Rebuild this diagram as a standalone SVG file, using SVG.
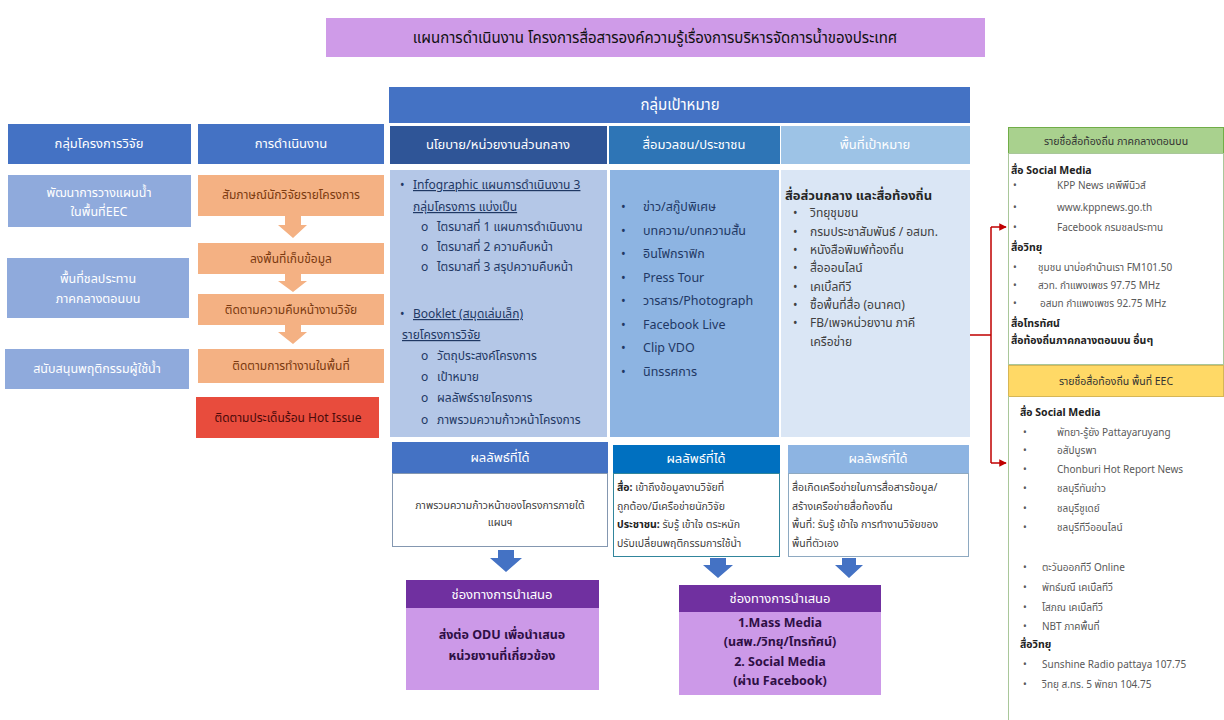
<svg xmlns="http://www.w3.org/2000/svg" width="1224" height="720" viewBox="0 0 1224 720">
<defs>
<style>
text{font-family:"Noto Sans","Noto Sans Thai","Liberation Sans",sans-serif;}
.hd{fill:#fff;font-size:13px;text-anchor:middle;}
.lb{fill:#fff;font-size:12.5px;text-anchor:middle;}
.or{fill:#7B3A10;font-size:12px;text-anchor:middle;}
.c1{fill:#1F3864;font-size:12px;}
.c2{fill:#1F3864;font-size:12.5px;}
.c3{fill:#404040;font-size:12px;}
.rs{fill:#404040;font-size:10.5px;}
.rp{fill:#595959;font-size:10px;}
.rb{fill:#222;font-size:10.5px;font-weight:bold;}
.pu{fill:#2E0F45;font-size:12.5px;font-weight:bold;text-anchor:middle;}
.ul{text-decoration:underline;}
</style>
<marker id="ah" viewBox="0 0 10 10" refX="9" refY="5" markerWidth="5" markerHeight="5" orient="auto">
<path d="M0,0 L10,5 L0,10 z" fill="#C00000"/>
</marker>
</defs>
<rect width="1224" height="720" fill="#fff"/>

<!-- title banner -->
<g id="title">
<rect x="326" y="18" width="659" height="39" fill="#CF9BE8"/>
<text x="655" y="43" font-size="15" text-anchor="middle" fill="#111">แผนการดำเนินงาน โครงการสื่อสารองค์ความรู้เรื่องการบริหารจัดการน้ำของประเทศ</text>
</g>

<!-- left: research groups -->
<g id="research-groups">
<rect x="8" y="124" width="183" height="40" fill="#4472C4"/>
<text class="hd" x="99" y="148">กลุ่มโครงการวิจัย</text>
<rect x="8" y="175" width="183" height="52" fill="#8FAADC"/>
<text class="lb" x="99" y="197">พัฒนาการวางแผนน้ำ</text>
<text class="lb" x="99" y="216">ในพื้นที่EEC</text>
<rect x="7" y="258" width="182" height="60" fill="#8FAADC"/>
<text class="lb" x="98" y="283">พื้นที่ชลประทาน</text>
<text class="lb" x="98" y="303">ภาคกลางตอนบน</text>
<rect x="5" y="349" width="184" height="40" fill="#8FAADC"/>
<text class="lb" x="97" y="373">สนับสนุนพฤติกรรมผู้ใช้น้ำ</text>
</g>

<!-- left: operations -->
<g id="operations">
<rect x="198" y="124" width="186" height="40" fill="#4472C4"/>
<text class="hd" x="291" y="148">การดำเนินงาน</text>
<rect x="198" y="175" width="186" height="41" fill="#F4B183"/>
<text class="or" x="291" y="199">สัมภาษณ์นักวิจัยรายโครงการ</text>
<rect x="198" y="243" width="186" height="31" fill="#F4B183"/>
<text class="or" x="291" y="263">ลงพื้นที่เก็บข้อมูล</text>
<rect x="198" y="294" width="186" height="31" fill="#F4B183"/>
<text class="or" x="291" y="314">ติดตามความคืบหน้างานวิจัย</text>
<rect x="198" y="349" width="186" height="34" fill="#F4B183"/>
<text class="or" x="291" y="370">ติดตามการทำงานในพื้นที่</text>
<rect x="196" y="397" width="183" height="41" fill="#E84C3D"/>
<text x="288" y="422" font-size="12" text-anchor="middle" fill="#4A0A0A">ติดตามประเด็นร้อน Hot Issue</text>
</g>

<!-- target group header -->
<g id="target-header">
<rect x="389" y="87" width="581" height="36" fill="#4472C4"/>
<text x="680" y="110" font-size="15" text-anchor="middle" fill="#fff">กลุ่มเป้าหมาย</text>
</g>

<!-- column 1: policy / central agencies -->
<g id="col-policy">
<rect x="390" y="126" width="217" height="38" fill="#2F5597"/>
<text class="hd" x="498" y="149">นโยบาย/หน่วยงานส่วนกลาง</text>
<rect x="390" y="170" width="217" height="267" fill="#B4C7E7"/>
<text class="c1" x="400" y="189">•</text>
<text class="c1 ul" x="413" y="189">Infographic แผนการดำเนินงาน 3</text>
<text class="c1 ul" x="413" y="211">กลุ่มโครงการ แบ่งเป็น</text>
<text class="c1" x="421" y="231">o</text><text class="c1" x="437" y="231">ไตรมาสที่ 1 แผนการดำเนินงาน</text>
<text class="c1" x="421" y="251">o</text><text class="c1" x="437" y="251">ไตรมาสที่ 2 ความคืบหน้า</text>
<text class="c1" x="421" y="271">o</text><text class="c1" x="437" y="271">ไตรมาสที่ 3 สรุปความคืบหน้า</text>
<text class="c1" x="400" y="318">•</text>
<text class="c1 ul" x="413" y="318">Booklet (สมุดเล่มเล็ก)</text>
<text class="c1 ul" x="402" y="339">รายโครงการวิจัย</text>
<text class="c1" x="421" y="360">o</text><text class="c1" x="437" y="360">วัตถุประสงค์โครงการ</text>
<text class="c1" x="421" y="381">o</text><text class="c1" x="437" y="381">เป้าหมาย</text>
<text class="c1" x="421" y="402">o</text><text class="c1" x="437" y="402">ผลลัพธ์รายโครงการ</text>
<text class="c1" x="421" y="424">o</text><text class="c1" x="437" y="424">ภาพรวมความก้าวหน้าโครงการ</text>
</g>

<!-- column 2: mass media / public -->
<g id="col-media">
<rect x="609" y="126" width="171" height="38" fill="#2E75B6"/>
<text class="hd" x="694" y="149">สื่อมวลชน/ประชาชน</text>
<rect x="610" y="170" width="169" height="267" fill="#8DB4E2"/>
<text class="c2" x="621" y="211">•</text><text class="c2" x="643" y="211">ข่าว/สกู๊ปพิเศษ</text>
<text class="c2" x="621" y="235">•</text><text class="c2" x="643" y="235">บทความ/บทความสั้น</text>
<text class="c2" x="621" y="258">•</text><text class="c2" x="643" y="258">อินโฟกราฟิก</text>
<text class="c2" x="621" y="282">•</text><text class="c2" x="643" y="282">Press Tour</text>
<text class="c2" x="621" y="305">•</text><text class="c2" x="643" y="305">วารสาร/Photograph</text>
<text class="c2" x="621" y="329">•</text><text class="c2" x="643" y="329">Facebook Live</text>
<text class="c2" x="621" y="352">•</text><text class="c2" x="643" y="352">Clip VDO</text>
<text class="c2" x="621" y="376">•</text><text class="c2" x="643" y="376">นิทรรศการ</text>
</g>

<!-- column 3: target areas -->
<g id="col-area">
<rect x="781" y="126" width="189" height="38" fill="#9DC3E6"/>
<text class="hd" x="875" y="149">พื้นที่เป้าหมาย</text>
<rect x="781" y="170" width="189" height="267" fill="#DAE6F5"/>
<text x="785" y="200" font-size="13" font-weight="bold" fill="#262626">สื่อส่วนกลาง และสื่อท้องถิ่น</text>
<text class="c3" x="793" y="217">•</text><text class="c3" x="810" y="217">วิทยุชุมชน</text>
<text class="c3" x="793" y="236">•</text><text class="c3" x="810" y="236">กรมประชาสัมพันธ์ / อสมท.</text>
<text class="c3" x="793" y="254">•</text><text class="c3" x="810" y="254">หนังสือพิมพ์ท้องถิ่น</text>
<text class="c3" x="793" y="272">•</text><text class="c3" x="810" y="272">สื่อออนไลน์</text>
<text class="c3" x="793" y="291">•</text><text class="c3" x="810" y="291">เคเบิ้ลทีวี</text>
<text class="c3" x="793" y="309">•</text><text class="c3" x="810" y="309">ซื้อพื้นที่สื่อ (อนาคต)</text>
<text class="c3" x="793" y="327">•</text><text class="c3" x="810" y="327">FB/เพจหน่วยงาน ภาคี</text>
<text class="c3" x="810" y="346">เครือข่าย</text>
</g>

<!-- outcome boxes -->
<g id="outcome-policy">
<rect x="392" y="442" width="216" height="31" fill="#4472C4"/>
<text class="hd" x="500" y="462" font-size="11">ผลลัพธ์ที่ได้</text>
<rect x="392.5" y="473.5" width="215" height="73" fill="#fff" stroke="#8497B0"/>
<text class="rs" x="500" y="509" text-anchor="middle">ภาพรวมความก้าวหน้าของโครงการภายใต้</text>
<text class="rs" x="500" y="526" text-anchor="middle">แผนฯ</text>
</g>
<g id="outcome-media">
<rect x="613" y="445" width="167" height="28" fill="#0070C0"/>
<text class="hd" x="696" y="463" font-size="11">ผลลัพธ์ที่ได้</text>
<rect x="613.5" y="473.5" width="166" height="83" fill="#fff" stroke="#31859C"/>
<text class="rs" x="617" y="491"><tspan font-weight="bold" fill="#222">สื่อ:</tspan> เข้าถึงข้อมูลงานวิจัยที่</text>
<text class="rs" x="617" y="510">ถูกต้อง/มีเครือข่ายนักวิจัย</text>
<text class="rs" x="617" y="528"><tspan font-weight="bold" fill="#222">ประชาชน:</tspan> รับรู้ เข้าใจ ตระหนัก</text>
<text class="rs" x="617" y="547">ปรับเปลี่ยนพฤติกรรมการใช้น้ำ</text>
</g>
<g id="outcome-area">
<rect x="788" y="445" width="181" height="28" fill="#8DB4E2"/>
<text class="hd" x="878" y="463" font-size="11">ผลลัพธ์ที่ได้</text>
<rect x="788.5" y="473.5" width="180" height="83" fill="#fff" stroke="#8EA9C1"/>
<text class="rs" x="792" y="491">สื่อเกิดเครือข่ายในการสื่อสารข้อมูล/</text>
<text class="rs" x="792" y="510">สร้างเครือข่ายสื่อท้องถิ่น</text>
<text class="rs" x="792" y="528">พื้นที่: รับรู้ เข้าใจ การทำงานวิจัยของ</text>
<text class="rs" x="792" y="547">พื้นที่ตัวเอง</text>
</g>

<!-- presentation channels -->
<g id="channel-odu">
<rect x="406" y="580" width="193" height="28" fill="#7030A0"/>
<text class="hd" x="502" y="599" font-size="11.5">ช่องทางการนำเสนอ</text>
<rect x="406" y="608" width="193" height="82" fill="#CC99E8"/>
<text class="pu" x="502" y="639">ส่งต่อ ODU เพื่อนำเสนอ</text>
<text class="pu" x="502" y="660">หน่วยงานที่เกี่ยวข้อง</text>
</g>
<g id="channel-media">
<rect x="679" y="585" width="202" height="27" fill="#7030A0"/>
<text class="hd" x="780" y="603" font-size="11.5">ช่องทางการนำเสนอ</text>
<rect x="679" y="612" width="202" height="83" fill="#CC99E8"/>
<text class="pu" x="780" y="627">1.Mass Media</text>
<text class="pu" x="780" y="646">(นสพ./วิทยุ/โทรทัศน์)</text>
<text class="pu" x="780" y="666">2. Social Media</text>
<text class="pu" x="780" y="685">(ผ่าน Facebook)</text>
</g>

<!-- local media lists -->
<g id="local-central">
<rect x="1008.5" y="127.5" width="215" height="26" fill="#A9D18E" stroke="#70AD47"/>
<text x="1116" y="145" font-size="10.5" text-anchor="middle" fill="#333">รายชื่อสื่อท้องถิ่น ภาคกลางตอนบน</text>
<rect x="1008.5" y="153.5" width="215" height="211" fill="#fff" stroke="#A9C79A"/>
<text class="rb" x="1011" y="174">สื่อ Social Media</text>
<text class="rp" x="1013" y="189">•</text><text class="rp" x="1057" y="189">KPP News เคพีพีนิวส์</text>
<text class="rp" x="1013" y="211">•</text><text class="rp" x="1057" y="211">www.kppnews.go.th</text>
<text class="rp" x="1013" y="231">•</text><text class="rp" x="1057" y="231">Facebook กรมชลประทาน</text>
<text class="rb" x="1011" y="251">สื่อวิทยุ</text>
<text class="rp" x="1013" y="271">•</text><text class="rp" x="1038" y="271">ชุมชน นาบ่อคำบ้านเรา FM101.50</text>
<text class="rp" x="1013" y="289">•</text><text class="rp" x="1038" y="289">สวท. กำแพงเพชร 97.75 MHz</text>
<text class="rp" x="1013" y="307">•</text><text class="rp" x="1040" y="307">อสมท กำแพงเพชร 92.75 MHz</text>
<text class="rb" x="1011" y="327">สื่อโทรทัศน์</text>
<text class="rb" x="1011" y="344">สื่อท้องถิ่นภาคกลางตอนบน อื่นๆ</text>
</g>
<g id="local-eec">
<rect x="1008.5" y="365.5" width="215" height="31" fill="#FFD966" stroke="#D6B656"/>
<text x="1116" y="385" font-size="10.5" text-anchor="middle" fill="#333">รายชื่อสื่อท้องถิ่น พื้นที่ EEC</text>
<line x1="1008.5" y1="396" x2="1008.5" y2="720" stroke="#A9C79A"/>
<text class="rb" x="1020" y="416">สื่อ Social Media</text>
<text class="rp" x="1023" y="436">•</text><text class="rp" x="1057" y="436">พัทยา-รู้ยัง Pattayaruyang</text>
<text class="rp" x="1023" y="454">•</text><text class="rp" x="1057" y="454">อสัปบูรพา</text>
<text class="rp" x="1023" y="473">•</text><text class="rp" x="1057" y="473">Chonburi Hot Report News</text>
<text class="rp" x="1023" y="492">•</text><text class="rp" x="1057" y="492">ชลบุรีทันข่าว</text>
<text class="rp" x="1023" y="512">•</text><text class="rp" x="1057" y="512">ชลบุรีชูเดย์</text>
<text class="rp" x="1023" y="531">•</text><text class="rp" x="1057" y="531">ชลบุรีทีวีออนไลน์</text>
<text class="rp" x="1023" y="571">•</text><text class="rp" x="1042" y="571">ตะวันออกทีวี Online</text>
<text class="rp" x="1023" y="591">•</text><text class="rp" x="1042" y="591">พัทธ์มณี เคเบิ้ลทีวี</text>
<text class="rp" x="1023" y="611">•</text><text class="rp" x="1042" y="611">โสภณ เคเบิ้ลทีวี</text>
<text class="rp" x="1023" y="630">•</text><text class="rp" x="1042" y="630">NBT ภาคพื้นที่</text>
<text class="rb" x="1020" y="648">สื่อวิทยุ</text>
<text class="rp" x="1023" y="668">•</text><text class="rp" x="1042" y="668">Sunshine Radio pattaya 107.75</text>
<text class="rp" x="1023" y="688">•</text><text class="rp" x="1042" y="688">วิทยุ ส.ทร. 5 พัทยา 104.75</text>
</g>

<!-- connectors -->
<g id="connectors">
<!-- orange step arrows -->
<path d="M285,216 H301 V225 H307 L293,238 L278,225 H285 Z" fill="#F4B183"/>
<path d="M285,274 H301 V281 H307 L293,292 L278,281 H285 Z" fill="#F4B183"/>
<path d="M285,325 H301 V332 H307 L293,344 L278,332 H285 Z" fill="#F4B183"/>
<!-- blue outcome arrows -->
<path d="M498,550 H514 V558 H522 L506,572 L490,558 H498 Z" fill="#4472C4"/>
<path d="M710,558 H726 V565 H733 L718,578 L703,565 H710 Z" fill="#4472C4"/>
<path d="M842,558 H856 V565 H863 L849,578 L835,565 H842 Z" fill="#4472C4"/>
<!-- red bracket to local media lists -->
<path d="M970,335 H991 M991,227 V463" fill="none" stroke="#C00000" stroke-width="1.5"/>
<path d="M991,227 H1006" fill="none" stroke="#C00000" stroke-width="1.5" marker-end="url(#ah)"/>
<path d="M991,463 H1006" fill="none" stroke="#C00000" stroke-width="1.5" marker-end="url(#ah)"/>
</g>
</svg>
